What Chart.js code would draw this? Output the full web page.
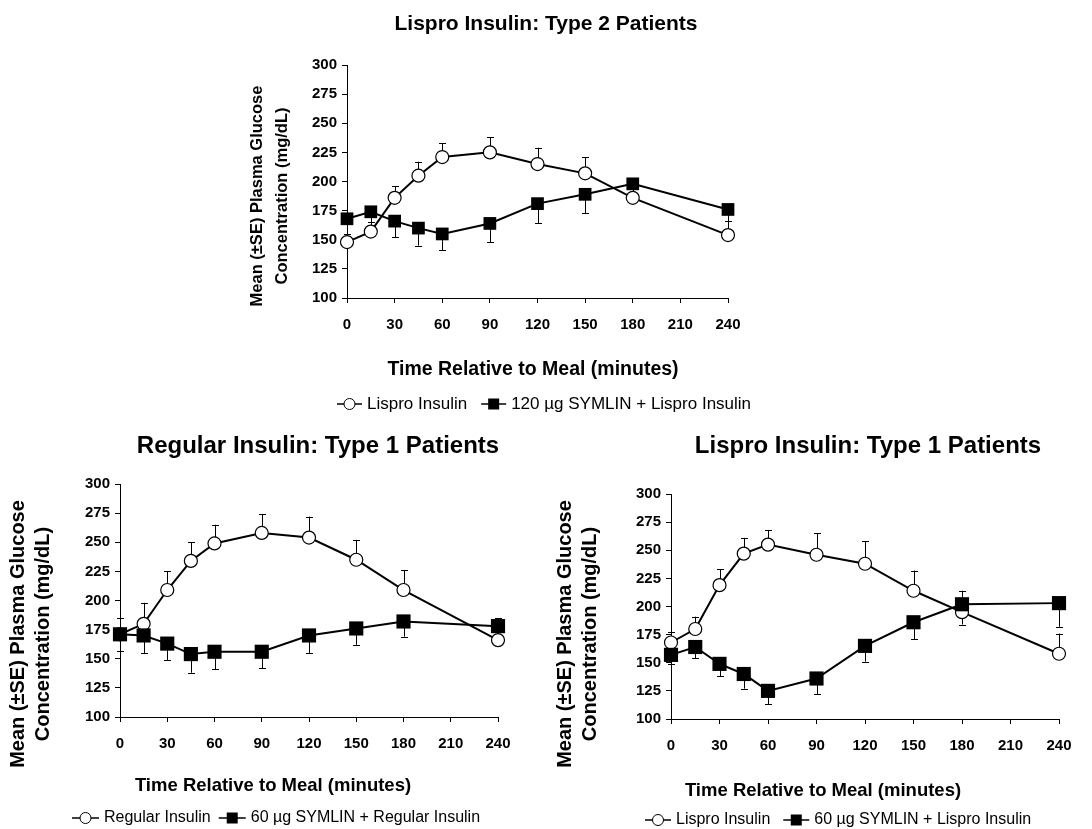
<!DOCTYPE html>
<html>
<head>
<meta charset="utf-8">
<script src="https://cdn.jsdelivr.net/npm/chart.js@4.4.1/dist/chart.umd.min.js"></script>
<style>
  html, body { margin: 0; padding: 0; background: #fff; }
  #wrap { position: relative; width: 1092px; height: 829px; background: #fff; }
  #wrap canvas { position: absolute; left: 0; top: 0; }
</style>
</head>
<body>
<div id="wrap">
  <canvas id="chartT2Lispro" width="1092" height="829"></canvas>
  <canvas id="chartT1Regular" width="1092" height="829"></canvas>
  <canvas id="chartT1Lispro" width="1092" height="829"></canvas>
</div>
<script>
/* ── Datos ──────────────────────────────────────────────────────────── */
const timeMin = [0, 15, 30, 45, 60, 90, 120, 150, 180, 240];
const xTickValues = [0, 30, 60, 90, 120, 150, 180, 210, 240];
const yTickValues = [100, 125, 150, 175, 200, 225, 250, 275, 300];

// Lispro Insulin: Type 2 Patients
const t2LisproMean = [148, 157, 186, 205, 221, 225, 215, 207, 186, 154];
const t2LisproSE   = [7, 8, 10, 12, 12, 13, 14, 14, 9, 12];
const t2Symlin120Mean = [168, 174, 166, 160, 155, 164, 181, 189, 198, 176];
const t2Symlin120SE   = [13, 9, 14, 15, 14, 16, 17, 16, 10, 10];

// Regular Insulin: Type 1 Patients
const t1RegularMean = [171, 180, 209, 234, 249, 258, 254, 235, 209, 166];
const t1RegularSE   = [14, 18, 16, 16, 16, 16, 18, 17, 17, 19];
const t1RegSymlin60Mean = [171, 170, 163, 154, 156, 156, 170, 176, 182, 178];
const t1RegSymlin60SE   = [14, 15, 14, 16, 15, 14, 15, 14, 13, 8];

// Lispro Insulin: Type 1 Patients
const t1LisproMean = [168, 180, 219, 247, 255, 246, 238, 214, 195, 158];
const t1LisproSE   = [9, 11, 14, 14, 13, 19, 20, 18, 19, 18];
const t1LisSymlin60Mean = [157, 164, 149, 140, 125, 136, 165, 186, 202, 203];
const t1LisSymlin60SE   = [8, 10, 11, 13, 12, 14, 14, 15, 18, 21];

const FONT = "'Liberation Sans', Arial, sans-serif";
const Y_TITLE = ['Mean (\u00B1SE) Plasma Glucose', 'Concentration (mg/dL)'];
const X_TITLE = 'Time Relative to Meal (minutes)';

/* Dibuja un marcador (círculo blanco o cuadrado negro) */
function drawMarker(ctx, style, x, y, size) {
  ctx.lineWidth = 1;
  ctx.strokeStyle = '#000';
  if (style === 'circle') {
    ctx.beginPath();
    ctx.arc(x, y, size, 0, Math.PI * 2);
    ctx.fillStyle = '#fff';
    ctx.fill();
    ctx.stroke();
  } else {
    ctx.fillStyle = '#000';
    ctx.fillRect(x - size, y - size, size * 2, size * 2);
  }
}

/* Barras de error ±SE: círculos hacia arriba, cuadrados hacia abajo */
const errorBarsPlugin = {
  id: 'errorBars',
  beforeDatasetsDraw(chart) {
    const ctx = chart.ctx;
    const yScale = chart.scales.y;
    ctx.save();
    ctx.strokeStyle = '#000';
    ctx.lineWidth = 1;
    chart.data.datasets.forEach((ds, i) => {
      const meta = chart.getDatasetMeta(i);
      meta.data.forEach((pt, j) => {
        const yEnd = yScale.getPixelForValue(ds.data[j].y + ds.errDir * ds.se[j]);
        const x = Math.round(pt.x) + 0.5;
        ctx.beginPath();
        ctx.moveTo(x, pt.y);
        ctx.lineTo(x, yEnd);
        ctx.moveTo(x - 3.5, Math.round(yEnd) + 0.5);
        ctx.lineTo(x + 3.5, Math.round(yEnd) + 0.5);
        ctx.stroke();
      });
    });
    ctx.restore();
  }
};

/* Títulos, etiquetas de ejes y leyenda */
const decorPlugin = {
  id: 'decor',
  afterDraw(chart, args, o) {
    const ctx = chart.ctx;
    ctx.save();
    ctx.fillStyle = '#000';
    ctx.textBaseline = 'middle';
    ctx.textAlign = 'center';

    ctx.font = `bold ${o.titleSize}px ${FONT}`;
    ctx.fillText(o.title, o.titleX, o.titleY);

    ctx.font = `bold ${o.xTitleSize}px ${FONT}`;
    ctx.fillText(X_TITLE, o.xTitleX, o.xTitleY);

    ctx.font = `bold ${o.yTitleSize}px ${FONT}`;
    Y_TITLE.forEach((line, i) => {
      ctx.save();
      ctx.translate(o.yTitleX + i * o.yTitleGap, o.yTitleY);
      ctx.rotate(-Math.PI / 2);
      ctx.fillText(line, 0, 0);
      ctx.restore();
    });

    // leyenda: —○— texto   —■— texto
    ctx.font = `${o.legendSize}px ${FONT}`;
    ctx.textAlign = 'left';
    let x = o.legendX;
    const y = o.legendY;
    const items = [chart.data.datasets[1], chart.data.datasets[0]];
    items.forEach((ds) => {
      ctx.strokeStyle = '#000';
      ctx.lineWidth = 1.5;
      ctx.beginPath();
      ctx.moveTo(x, y);
      ctx.lineTo(x + o.legendLine, y);
      ctx.stroke();
      drawMarker(ctx, ds.pointStyle, x + o.legendLine / 2, y, 5.5);
      ctx.fillStyle = '#000';
      const tx = x + o.legendLine + 5;
      ctx.fillText(ds.label, tx, y);
      x = tx + ctx.measureText(ds.label).width + o.legendGap;
    });
    ctx.restore();
  }
};

function makeChart(id, open, filled, plot, decor) {
  const toPts = (arr) => arr.map((v, i) => ({ x: timeMin[i], y: v }));
  const axisCommon = {
    type: 'linear',
    border: { display: true, color: '#000', width: 1 },
    grid: { display: true, drawOnChartArea: false, drawTicks: true, tickLength: 5, color: '#000' },
    ticks: { color: '#000', font: { family: FONT, size: 15, weight: 'bold' } },
  };
  return new Chart(document.getElementById(id), {
    type: 'line',
    data: {
      datasets: [
        {
          label: filled.label, data: toPts(filled.mean), se: filled.se, errDir: -1,
          borderColor: '#000', borderWidth: 2, pointStyle: 'rect',
          pointRadius: filled.size, pointBackgroundColor: '#000', pointBorderColor: '#000',
          pointBorderWidth: 0, clip: false, order: 0,
        },
        {
          label: open.label, data: toPts(open.mean), se: open.se, errDir: 1,
          borderColor: '#000', borderWidth: 2, pointStyle: 'circle',
          pointRadius: 6.5, pointBackgroundColor: '#fff', pointBorderColor: '#000',
          pointBorderWidth: 1.2, clip: false, order: 1,
        },
      ],
    },
    options: {
      responsive: false,
      animation: false,
      events: [],
      layout: {
        padding: { left: plot.left - 60, top: plot.top, right: 1092 - plot.right, bottom: 829 - plot.bottom - 40 },
      },
      plugins: { legend: { display: false }, tooltip: { enabled: false }, title: { display: false }, decor: decor },
      scales: {
        x: Object.assign({}, axisCommon, {
          min: 0, max: 240,
          afterBuildTicks: (s) => { s.ticks = xTickValues.map(v => ({ value: v })); },
          afterFit: (s) => { s.height = 40; },
          ticks: Object.assign({}, axisCommon.ticks, { padding: 13, maxRotation: 0, autoSkip: false }),
        }),
        y: Object.assign({}, axisCommon, {
          min: 100, max: 300,
          afterBuildTicks: (s) => { s.ticks = yTickValues.map(v => ({ value: v })); },
          afterFit: (s) => { s.width = 60; },
          ticks: Object.assign({}, axisCommon.ticks, { padding: 5 }),
        }),
      },
    },
    plugins: [errorBarsPlugin, decorPlugin],
  });
}

/* ── 1) Lispro Insulin: Type 2 ─────────────────────────────────────── */
makeChart('chartT2Lispro',
  { label: 'Lispro Insulin', mean: t2LisproMean, se: t2LisproSE },
  { label: '120 \u00B5g SYMLIN + Lispro Insulin', mean: t2Symlin120Mean, se: t2Symlin120SE, size: 9 },
  { left: 347, right: 728, top: 65, bottom: 298 },
  { title: 'Lispro Insulin: Type 2 Patients', titleSize: 21, titleX: 546, titleY: 24,
    xTitleSize: 19.5, xTitleX: 533, xTitleY: 370,
    yTitleSize: 16.5, yTitleX: 257, yTitleGap: 25, yTitleY: 196,
    legendSize: 17, legendX: 337, legendY: 404, legendLine: 25, legendGap: 14 });

/* ── 2) Regular Insulin: Type 1 ────────────────────────────────────── */
makeChart('chartT1Regular',
  { label: 'Regular Insulin', mean: t1RegularMean, se: t1RegularSE },
  { label: '60 \u00B5g SYMLIN + Regular Insulin', mean: t1RegSymlin60Mean, se: t1RegSymlin60SE, size: 10 },
  { left: 120, right: 498, top: 484, bottom: 717 },
  { title: 'Regular Insulin: Type 1 Patients', titleSize: 24, titleX: 318, titleY: 446,
    xTitleSize: 18.5, xTitleX: 273, xTitleY: 786,
    yTitleSize: 20, yTitleX: 18, yTitleGap: 25, yTitleY: 634,
    legendSize: 16, legendX: 72, legendY: 818, legendLine: 27, legendGap: 8 });

/* ── 3) Lispro Insulin: Type 1 ─────────────────────────────────────── */
makeChart('chartT1Lispro',
  { label: 'Lispro Insulin', mean: t1LisproMean, se: t1LisproSE },
  { label: '60 \u00B5g SYMLIN + Lispro Insulin', mean: t1LisSymlin60Mean, se: t1LisSymlin60SE, size: 10 },
  { left: 671, right: 1059, top: 494, bottom: 719 },
  { title: 'Lispro Insulin: Type 1 Patients', titleSize: 24, titleX: 868, titleY: 446,
    xTitleSize: 18.5, xTitleX: 823, xTitleY: 791,
    yTitleSize: 20, yTitleX: 565, yTitleGap: 25, yTitleY: 634,
    legendSize: 16, legendX: 645, legendY: 820, legendLine: 26, legendGap: 13 });
</script>
</body>
</html>
